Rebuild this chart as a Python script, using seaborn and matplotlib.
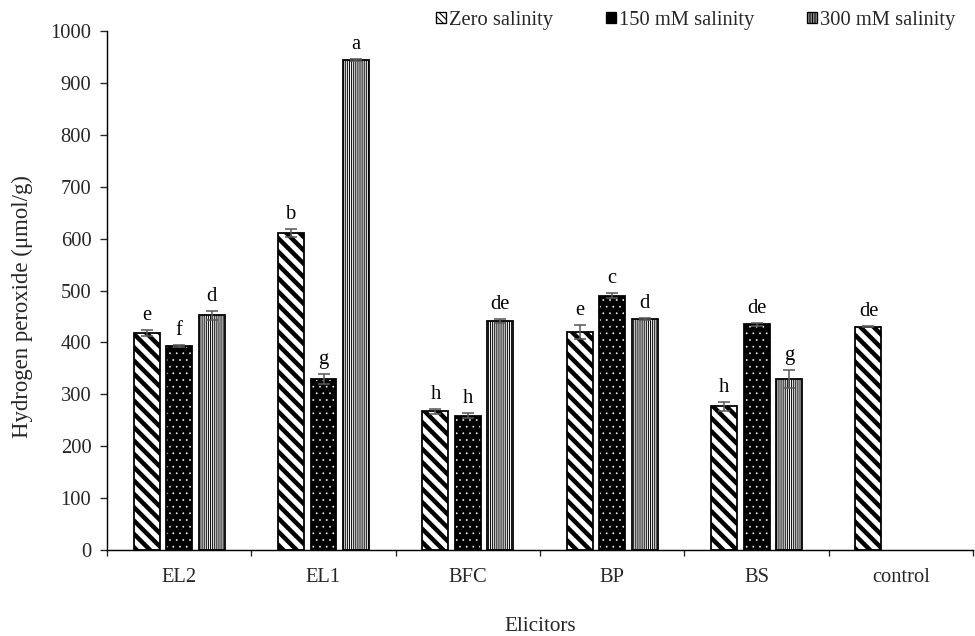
import numpy as np
import pandas as pd
import matplotlib
matplotlib.use("Agg")
import matplotlib.pyplot as plt
import seaborn as sns
from matplotlib.patches import Rectangle
from matplotlib.container import BarContainer

categories = ["EL2", "EL1", "BFC", "BP", "BS", "control"]
series = ["Zero salinity", "150 mM salinity", "300 mM salinity"]
zero_vals = [418, 611, 267, 420, 277, 430]
mid_vals = [393, 330, 259, 490, 435, np.nan]
high_vals = [452, 945, 441, 445, 330, np.nan]
zero_err = [5, 7, 5, 13, 9, 1]
mid_err = [2, 10, 5, 5, 3, np.nan]
high_err = [9, 2, 4, 2, 17, np.nan]
zero_letters = ["e", "b", "h", "e", "h", "de"]
mid_letters = ["f", "g", "h", "c", "de", ""]
high_letters = ["d", "a", "de", "d", "g", ""]
yticks = [0, 100, 200, 300, 400, 500, 600, 700, 800, 900, 1000]

values = [zero_vals, mid_vals, high_vals]
errors = [zero_err, mid_err, high_err]
letters = [zero_letters, mid_letters, high_letters]

rows = []
for s, vals in zip(series, values):
    for c, v in zip(categories, vals):
        if not (isinstance(v, float) and np.isnan(v)):
            rows.append({"Elicitor": c, "Salinity": s, "Value": v})
df = pd.DataFrame(rows)

sns.set_style("white")
plt.rcParams["font.family"] = ["Liberation Serif", "DejaVu Serif"]

DPI = 80
FS = 18.5
fig = plt.figure(figsize=(975 / DPI, 636 / DPI), dpi=DPI)
ax = fig.add_axes([107 / 975, 1 - 550 / 636, 0.998 - 107 / 975, (550 - 31) / 636])

sns.barplot(data=df, x="Elicitor", y="Value", hue="Salinity",
            order=categories, hue_order=series, width=0.674, gap=0.2,
            errorbar=None, legend=False, ax=ax)

styles = [
    dict(face="white", hatch="\\\\", hcolor="black", hlw=4.0),
    dict(face="black", hatch="..", hcolor="white", hlw=0.4),
    dict(face="white", hatch="|||||||", hcolor="black", hlw=0.85),
]

bar_containers = [c for c in ax.containers if isinstance(c, BarContainer)][:3]
for ci, cont in enumerate(bar_containers):
    st = styles[ci]
    for bar in cont.patches:
        bar.set_facecolor(st["face"])
        bar.set_hatch(st["hatch"])
        bar.set_edgecolor(st["hcolor"])
        bar.set_linewidth(0)
        if hasattr(bar, "set_hatch_linewidth"):
            bar.set_hatch_linewidth(st["hlw"])
        outline = Rectangle(bar.get_xy(), bar.get_width(), bar.get_height(),
                            fill=False, edgecolor="black", linewidth=1.6,
                            zorder=bar.get_zorder() + 0.1)
        ax.add_patch(outline)
        xc = bar.get_x() + bar.get_width() / 2
        k = int(round(xc))
        v = values[ci][k]
        e = errors[ci][k]
        ax.errorbar(xc, v, yerr=e, fmt="none", ecolor="#595959", elinewidth=1.4,
                    capsize=5, capthick=1.4, zorder=5)
        ax.annotate(letters[ci][k], (xc, v + e), xytext=(0, 9), textcoords="offset points",
                    ha="center", va="baseline", fontsize=FS, color="black")

# legend proxies
handles = []
h0 = Rectangle((0, 0), 1, 1, facecolor="white", edgecolor="black", hatch="\\\\\\\\", linewidth=1.2)
h1 = Rectangle((0, 0), 1, 1, facecolor="black", edgecolor="black", linewidth=1.2)
h2 = Rectangle((0, 0), 1, 1, facecolor="white", edgecolor="black", hatch="||||||||", linewidth=1.2)
for h, lw in zip([h0, h1, h2], [2.0, 1.0, 1.2]):
    if hasattr(h, "set_hatch_linewidth"):
        h.set_hatch_linewidth(lw)
    handles.append(h)

ax.set_ylim(0, 1000)
ax.set_xlim(-0.5, 5.5)
ax.set_yticks(yticks)
ax.set_yticklabels([str(t) for t in yticks])
ax.set_xticks(range(len(categories)))
ax.set_xticklabels(categories)
ax.set_xticks(np.arange(-0.5, len(categories), 1.0), minor=True)
ax.tick_params(axis="x", which="major", length=0, pad=16, labelsize=FS)
ax.tick_params(axis="x", which="minor", length=5, width=1.2, direction="out", bottom=True)
ax.tick_params(axis="y", length=6, width=1.2, direction="out", left=True, pad=8, labelsize=FS)

for side in ["top", "right"]:
    ax.spines[side].set_visible(False)
for side in ["left", "bottom"]:
    ax.spines[side].set_color("black")
    ax.spines[side].set_linewidth(1.3)

ax.set_xlabel("Elicitors", fontsize=19)
ax.xaxis.set_label_coords(0.5, -0.129)
ax.set_ylabel("Hydrogen peroxide (μmol/g)", fontsize=20.5)
ax.yaxis.set_label_coords(-0.086, 0.47)

leg = fig.legend(handles=handles, labels=series, ncol=3, frameon=False,
                 loc="center right", bbox_to_anchor=(0.999, 0.968),
                 fontsize=FS, handlelength=0.5, handleheight=0.5,
                 handletextpad=0.15, columnspacing=2.55)

fig.savefig("out.png", dpi=DPI)
